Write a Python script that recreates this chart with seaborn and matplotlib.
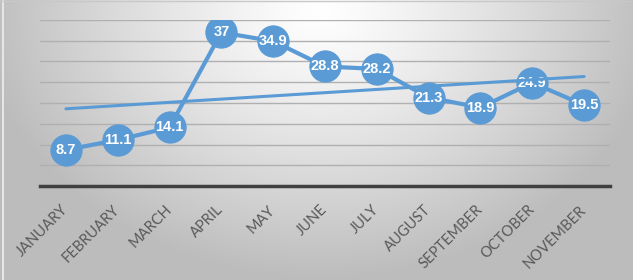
import numpy as np
import pandas as pd
import matplotlib
matplotlib.use("Agg")
import matplotlib.pyplot as plt
import matplotlib.transforms as mtransforms
import seaborn as sns

months = ["JANUARY", "FEBRUARY", "MARCH", "APRIL", "MAY", "JUNE", "JULY",
          "AUGUST", "SEPTEMBER", "OCTOBER", "NOVEMBER"]
values = [8.7, 11.1, 14.1, 37, 34.9, 28.8, 28.2, 21.3, 18.9, 24.9, 19.5]
y_ticks = [5, 10, 15, 20, 25, 30, 35, 40]

sns.set_style("white")
plt.rcParams['font.family'] = ['Lato', 'DejaVu Sans']

BLUE = "#5B9BD5"
df = pd.DataFrame({"idx": np.arange(len(months)), "month": months, "value": values})

fig = plt.figure(figsize=(6.33, 2.80), dpi=100)

# background gradient
bg = fig.add_axes([0, 0, 1, 1], zorder=-10)
H, W = 280, 633
yy, xx = np.mgrid[0:H, 0:W]
d = np.sqrt(((xx - 320) / 380.0) ** 2 + ((yy - 10) / 300.0) ** 2)
g = np.clip(1.0 - 0.30 * d ** 1.2, 0.74, 1.0)
img = np.dstack([g, g, g])
bg.imshow(img, aspect="auto", extent=[0, 1, 0, 1], origin="upper")
bg.set_xlim(0, 1)
bg.set_ylim(0, 1)
bg.plot([0.004, 0.004], [0, 1], color="#e6e6e6", linewidth=1.5)
bg.plot([0, 1], [0.997, 0.997], color="#c8c8c8", linewidth=1.0)
bg.axis("off")

ax = fig.add_axes([40 / 633, (280 - 186) / 280, 570 / 633, 166 / 280])
ax.patch.set_alpha(0)

for yv in y_ticks:
    ax.axhline(yv, color="#b0b0b0", linewidth=1.0, zorder=0)

sns.lineplot(data=df, x="idx", y="value", ax=ax, color=BLUE, linewidth=3,
             marker="o", markersize=22.5, markeredgecolor=BLUE, zorder=3)

for i, v in enumerate(values):
    ax.text(i, v, f"{v:g}", ha="center", va="center", color="white",
            fontsize=10.5, fontweight="bold", family="Liberation Sans", zorder=5)

sns.regplot(data=df, x="idx", y="value", ax=ax, scatter=False, ci=None,
            truncate=True, line_kws={"color": BLUE, "linewidth": 2.2, "zorder": 6})

ax.set_xlim(-0.5, len(months) - 0.5)
ax.set_ylim(0, 40)
ax.set_xticks(range(len(months)))
ax.set_xticklabels(months, rotation=45, ha="right", rotation_mode="anchor",
                   color="#595959", fontsize=10.5)
ax.tick_params(axis="x", length=0, pad=12)
shift = mtransforms.ScaledTranslation(-5 / 100, 0, fig.dpi_scale_trans)
for lbl in ax.get_xticklabels():
    lbl.set_transform(lbl.get_transform() + shift)
ax.set_yticks([])
ax.set_xlabel("")
ax.set_ylabel("")
for s in ["top", "right", "left"]:
    ax.spines[s].set_visible(False)
ax.spines["bottom"].set_color("#404040")
ax.spines["bottom"].set_linewidth(2.5)

fig.savefig("out.png", dpi=100)
